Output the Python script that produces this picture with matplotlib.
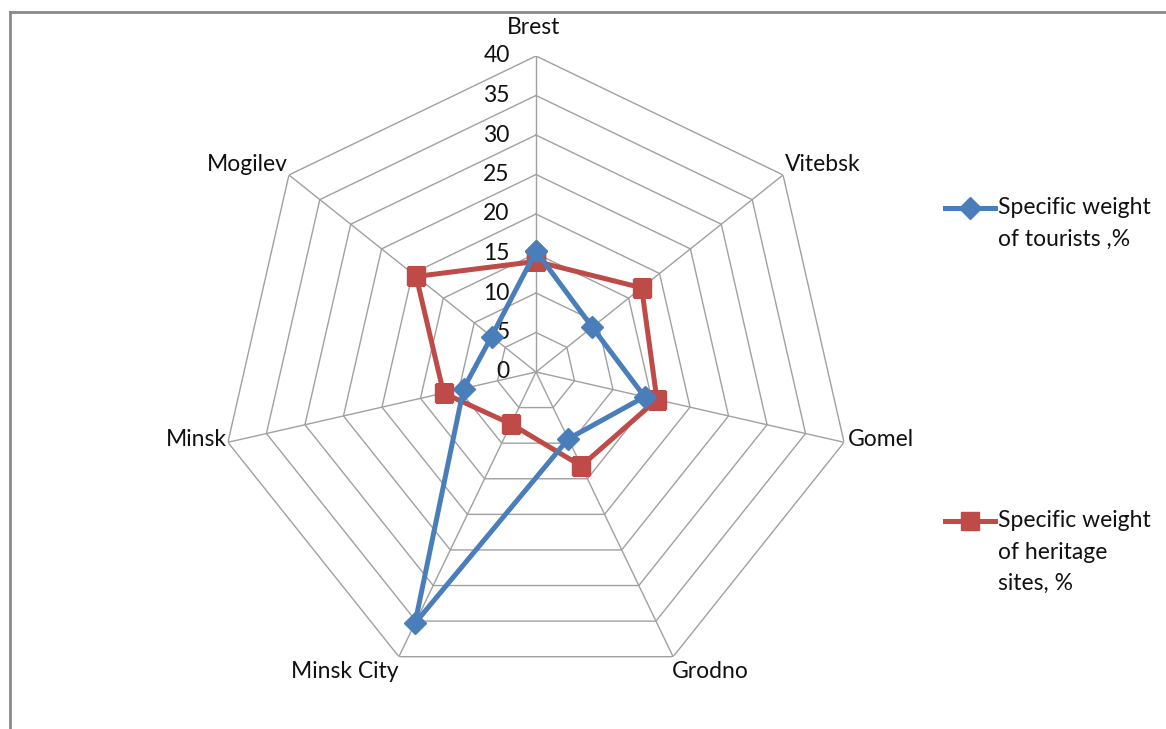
import numpy as np
import matplotlib
matplotlib.use("Agg")
import matplotlib.pyplot as plt
from matplotlib.lines import Line2D

categories = ["Brest", "Vitebsk", "Gomel", "Grodno", "Minsk City", "Minsk", "Mogilev"]
tourists = [15.3, 9.1, 14.1, 9.4, 35.3, 9.4, 7.2]
heritage = [14.0, 17.1, 15.7, 13.2, 7.3, 12.0, 19.4]
r_ticks = [0, 5, 10, 15, 20, 25, 30, 35, 40]
series_names = ["Specific weight\nof tourists ,%", "Specific weight\nof heritage\nsites, %"]

BLUE = "#4A7EBB"
RED = "#BE4B48"
GRID = "#a0a0a0"
FONT = "Lato"
FS = 16.5

fig = plt.figure(figsize=(11.66, 7.29), dpi=100)
W, H = 1166, 729
cx, cy, R = 536, 372, 316
ax = fig.add_axes([(cx - R) / W, 1 - (cy + R) / H, 2 * R / W, 2 * R / H], projection="polar")
ax.set_theta_zero_location("N")
ax.set_theta_direction(-1)
ax.set_ylim(0, 40)
ax.grid(False)
ax.set_xticks([])
ax.set_yticks([])
ax.spines["polar"].set_visible(False)
ax.patch.set_alpha(0)

n = len(categories)
theta = np.arange(n) * 2 * np.pi / n
theta_c = np.append(theta, theta[0])

# polygon gridlines
for r in r_ticks[1:]:
    ax.plot(theta_c, [r] * (n + 1), color=GRID, lw=1.0, zorder=1)
for t in theta:
    ax.plot([t, t], [0, 40], color=GRID, lw=1.0, zorder=1)

# radial tick labels
for r in r_ticks:
    ax.annotate(str(r), xy=(0, r), xytext=(-19, 0), textcoords="offset points",
                ha="right", va="center", fontsize=FS, family=FONT, color="#111111")

# category labels
align = [("center", "bottom", (-2, 13)),
         ("left", "bottom", (1, 0)),
         ("left", "center", (3, 2)),
         ("left", "top", (-1, -3)),
         ("right", "top", (0, -3)),
         ("right", "center", (-1, 2)),
         ("right", "bottom", (-1, 0))]
for t, lab, (ha, va, off) in zip(theta, categories, align):
    ax.annotate(lab, xy=(t, 40), xytext=off, textcoords="offset points",
                ha=ha, va=va, fontsize=FS, family=FONT, color="#111111",
                annotation_clip=False)

# series
ax.plot(theta_c, tourists + tourists[:1], color=BLUE, lw=3.6, marker="D",
        markersize=11, markerfacecolor=BLUE, markeredgecolor=BLUE, zorder=4)
ax.plot(theta_c, heritage + heritage[:1], color=RED, lw=3.6, marker="s",
        markersize=13, markerfacecolor=RED, markeredgecolor=RED, zorder=3)

# legend (manual)
def leg(y_px, color, marker, ms, text):
    y = 1 - y_px / H
    fig.add_artist(Line2D([945 / W, 995 / W], [y, y], color=color, lw=3.6,
                          transform=fig.transFigure))
    fig.add_artist(Line2D([970 / W], [y], color=color, marker=marker, markersize=ms,
                          transform=fig.transFigure))
    fig.text(998 / W, y + 11 / H, text, ha="left", va="top", fontsize=FS,
             family=FONT, color="#111111", linespacing=1.62)

leg(208, BLUE, "D", 11, series_names[0])
leg(521, RED, "s", 13, series_names[1])

# chart border (top and left)
fig.add_artist(Line2D([10 / W, 10 / W], [0, 1 - 12 / H], color="#8a8a8a", lw=2,
                      transform=fig.transFigure))
fig.add_artist(Line2D([10 / W, 1], [1 - 12 / H, 1 - 12 / H], color="#8a8a8a", lw=2,
                      transform=fig.transFigure))

fig.savefig("out.png", dpi=100, facecolor="white")
